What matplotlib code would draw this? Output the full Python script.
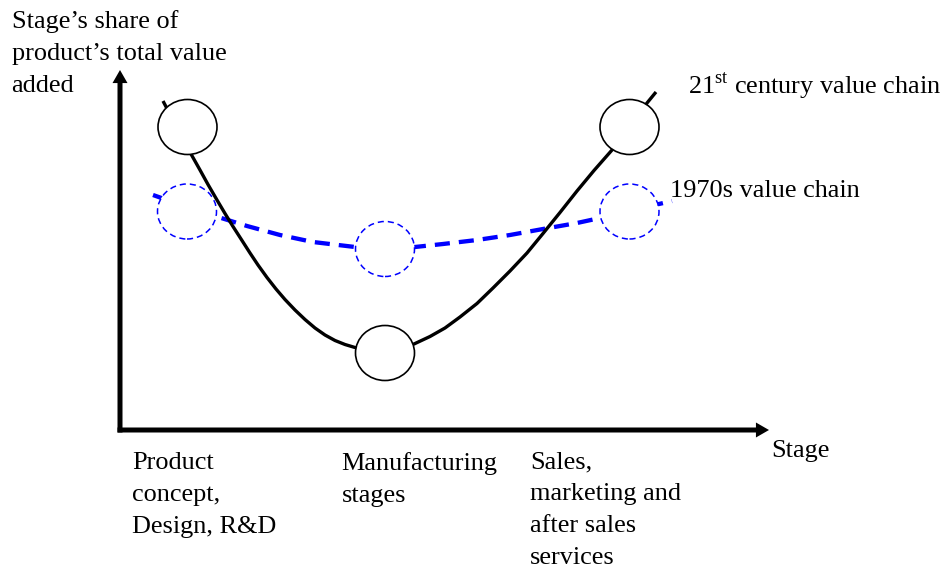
import matplotlib
matplotlib.use('Agg')
import matplotlib.pyplot as plt
from matplotlib.patches import Ellipse, FancyArrowPatch

plt.rcParams['font.family'] = ['Liberation Serif', 'DejaVu Serif']
plt.rcParams['mathtext.fontset'] = 'custom'
plt.rcParams['mathtext.rm'] = 'Liberation Serif'

#------------------------------ data (origin = corner of the axes, y up)
# 21st century value chain (solid "smile" curve)
new_x = [43, 71, 80, 88, 97, 105, 113, 122, 130, 138, 147, 156, 165, 175, 185, 195,
         205, 215, 225, 235, 265, 294, 310, 325, 340, 357, 373, 390, 407, 423, 440,
         457, 474, 492, 510, 527, 536]
new_y = [329, 276, 260, 245.5, 230, 216.5, 203.5, 189.5, 177, 165, 152.5, 141, 130.5,
         120, 110.5, 102, 95, 89.5, 85.5, 82.5, 78, 86, 93.5, 102, 113, 126.5, 142,
         159, 177, 196.5, 217.5, 239, 259.5, 280, 303, 327, 338]
# 1970s value chain (flat dashed curve)
old_x = [33, 67, 98, 127, 160, 193, 235, 265, 295, 323, 357, 390, 423, 457, 480, 510, 539, 552]
old_y = [235, 223, 213, 204, 195, 188, 183, 181, 183, 186, 190, 195, 201, 207, 212, 219, 226, 229]
# stage circles
new_cx = [67.5, 265, 509.5]
new_cy = [303, 77, 303]
old_cx = [67, 265, 509.5]
old_cy = [218.5, 181, 218.5]
stage_labels = ['Product\nconcept,\nDesign, R&D', 'Manufacturing\nstages',
                'Sales,\nmarketing and\nafter sales\nservices']
stage_label_x = [12.3, 221.7, 410]

#------------------------------
fs = 18.9
ls_txt = 1.58
fig = plt.figure(figsize=(9.44, 5.69), dpi=100)
ax = fig.add_axes([0, 0, 1, 1])
ax.set_xlim(-120, 824)
ax.set_ylim(-139, 430)
ax.axis('off')

# axes arrows
arr = 'simple,head_length=0.94,head_width=1.08,tail_width=0.36'
ax.add_patch(FancyArrowPatch((0, -2.5), (0, 360), arrowstyle=arr, mutation_scale=10,
                             shrinkA=0, shrinkB=0, color='black', lw=0))
ax.add_patch(FancyArrowPatch((-2.5, 0), (649, 0), arrowstyle=arr, mutation_scale=10,
                             shrinkA=0, shrinkB=0, color='black', lw=0))

# 1970s curve + circles
ax.plot(old_x, old_y, color='#0000ff', lw=3.1, ls=(0, (3.5, 2.1)), zorder=1)
for cx, cy in zip(old_cx, old_cy):
    ax.add_patch(Ellipse((cx, cy), 59, 55, facecolor='white', edgecolor='#0000ff',
                         lw=1.1, ls=(0, (4, 2.6)), zorder=2))

# 21st century curve + circles
ax.plot(new_x, new_y, color='black', lw=2.4, zorder=3, solid_capstyle='butt',
        solid_joinstyle='round')
for cx, cy in zip(new_cx, new_cy):
    ax.add_patch(Ellipse((cx, cy), 59, 55, facecolor='white', edgecolor='black',
                         lw=1.2, zorder=4))

# texts (y = baseline of the last line)
ax.text(-108.5, 338.5, 'Stage\u2019s share of\nproduct\u2019s total value\nadded',
        fontsize=fs, va='baseline', ha='left', linespacing=ls_txt)
ax.text(568, 336.7, r'21$^{\mathrm{st}}$ century value chain', fontsize=fs, va='baseline')
ax.text(550, 233.3, '1970s value chain', fontsize=fs, va='baseline')
ax.text(651.7, -27, 'Stage', fontsize=fs, va='baseline')
for lab, lx in zip(stage_labels, stage_label_x):
    nl = lab.count('\n')
    ax.text(lx, -41 - 31 * nl, lab, fontsize=fs, va='baseline', ha='left',
            linespacing=ls_txt)

fig.savefig('out.png', dpi=100)
